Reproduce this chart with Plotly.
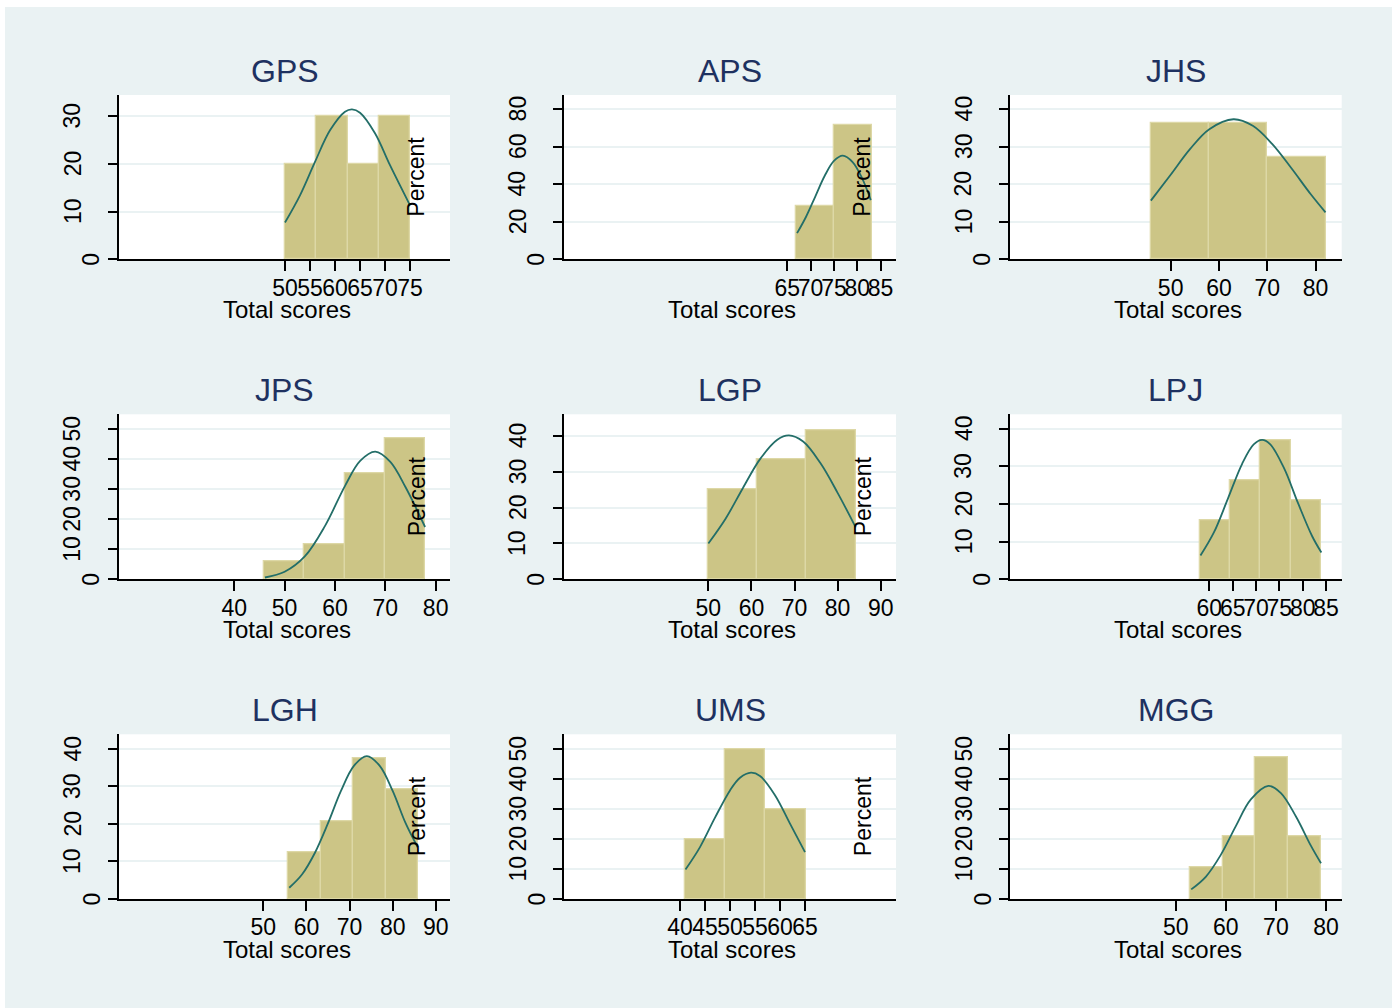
import numpy as np
import plotly.graph_objects as go

W, H = 1392, 1008

# ---------------- data ----------------
panel_names = ["GPS", "APS", "JHS", "JPS", "LGP", "LPJ", "LGH", "UMS", "MGG"]

gps_edges = [50.0, 56.25, 62.5, 68.75, 75.0]
gps_pct = [20.0, 30.0, 20.0, 30.0]
gps_curve_x = [50, 53, 56, 59, 62, 63.4, 65, 68, 71, 75]
gps_curve_y = [7.7, 13.4, 20.4, 27.0, 30.9, 31.4, 30.7, 26.4, 19.7, 11.3]

aps_edges = [66.9, 75.05, 83.2]
aps_pct = [28.57, 71.43]
aps_curve_x = [67.1, 69, 71, 73, 75, 76.9, 79, 81, 82.9]
aps_curve_y = [13.9, 22.5, 33.4, 44.3, 52.3, 55.1, 51.7, 43.3, 31.5]

jhs_edges = [45.9, 57.95, 70.0, 82.05]
jhs_pct = [36.36, 36.36, 27.27]
jhs_curve_x = [45.9, 50, 54, 58, 63, 67, 71, 75, 79, 82.05]
jhs_curve_y = [15.6, 22.5, 29.3, 34.6, 37.25, 35.5, 30.7, 24.2, 17.3, 12.5]

jps_edges = [45.9, 53.9, 61.9, 69.9, 77.9]
jps_pct = [5.88, 11.76, 35.29, 47.06]
jps_curve_x = [46.1, 50, 54, 58, 62, 65, 68, 71, 74, 77.9]
jps_curve_y = [0.6, 2.5, 7.6, 17.7, 31.1, 39.4, 42.5, 39.1, 30.7, 17.4]

lgp_edges = [49.85, 61.2, 72.65, 84.2]
lgp_pct = [25.0, 33.33, 41.67]
lgp_curve_x = [50, 54, 58, 62, 66, 68.7, 72, 76, 80, 84.2]
lgp_curve_y = [10.0, 16.9, 25.4, 33.5, 38.9, 40.1, 38.4, 32.4, 24.1, 14.5]

lpj_edges = [58.0, 64.4, 70.9, 77.45, 84.0]
lpj_pct = [15.79, 26.32, 36.84, 21.05]
lpj_curve_x = [58.1, 61, 64, 67, 69.5, 71.3, 73, 76, 79, 82, 84]
lpj_curve_y = [6.3, 12.5, 21.5, 30.6, 35.8, 37.0, 35.9, 29.5, 20.2, 11.5, 7.1]

lgh_edges = [55.8, 63.3, 70.8, 78.4, 85.8]
lgh_pct = [12.5, 20.83, 37.5, 29.17]
lgh_curve_x = [56, 59, 62, 65, 68, 71, 74, 77, 80, 83, 85.8]
lgh_curve_y = [3.0, 6.6, 12.4, 20.2, 28.8, 35.5, 38.1, 35.5, 28.8, 20.2, 13.8]

ums_edges = [40.9, 48.95, 57.05, 65.1]
ums_pct = [20.0, 50.0, 30.0]
ums_curve_x = [41.1, 44, 47, 50, 52, 54.2, 56, 59, 62, 65]
ums_curve_y = [9.8, 17.3, 27.1, 36.2, 40.4, 42.1, 41.0, 34.6, 25.1, 15.6]

mgg_edges = [52.86, 59.38, 65.9, 72.49, 79.0]
mgg_pct = [10.53, 21.05, 47.37, 21.05]
mgg_curve_x = [53.1, 56, 59, 62, 65, 68.5, 71, 74, 77, 79]
mgg_curve_y = [3.2, 7.4, 14.7, 24.3, 33.2, 37.7, 35.3, 27.5, 17.7, 11.9]

x_ticks = [
    [50, 55, 60, 65, 70, 75],
    [65, 70, 75, 80, 85],
    [50, 60, 70, 80],
    [40, 50, 60, 70, 80],
    [50, 60, 70, 80, 90],
    [60, 65, 70, 75, 80, 85],
    [50, 60, 70, 80, 90],
    [40, 45, 50, 55, 60, 65],
    [50, 60, 70, 80],
]
y_ticks = [
    [0, 10, 20, 30],
    [0, 20, 40, 60, 80],
    [0, 10, 20, 30, 40],
    [0, 10, 20, 30, 40, 50],
    [0, 10, 20, 30, 40],
    [0, 10, 20, 30, 40],
    [0, 10, 20, 30, 40],
    [0, 10, 20, 30, 40, 50],
    [0, 10, 20, 30, 40, 50],
]
x_ranges = [
    [16.8, 83.0], [17.15, 88.3], [16.75, 85.4],
    [17.1, 82.85], [16.5, 93.55], [17.3, 88.35],
    [16.5, 93.3], [16.8, 83.2], [16.93, 83.13],
]
y_ranges = [
    [0, 34.4], [0, 87.4], [0, 43.7],
    [0, 54.9], [0, 46.0], [0, 43.8],
    [0, 43.9], [0, 54.9], [0, 54.9],
]
show_percent = [True, True, False, True, True, False, True, True, False]

edges_all = [gps_edges, aps_edges, jhs_edges, jps_edges, lgp_edges,
             lpj_edges, lgh_edges, ums_edges, mgg_edges]
pct_all = [gps_pct, aps_pct, jhs_pct, jps_pct, lgp_pct,
           lpj_pct, lgh_pct, ums_pct, mgg_pct]
cx_all = [gps_curve_x, aps_curve_x, jhs_curve_x, jps_curve_x, lgp_curve_x,
          lpj_curve_x, lgh_curve_x, ums_curve_x, mgg_curve_x]
cy_all = [gps_curve_y, aps_curve_y, jhs_curve_y, jps_curve_y, lgp_curve_y,
          lpj_curve_y, lgh_curve_y, ums_curve_y, mgg_curve_y]

# ---------------- layout geometry (pixels) ----------------
col_px = [(119, 450), (564, 896), (1010, 1341.7)]
row_px = [(95, 259.3), (414.3, 579.3), (734.3, 899)]

BG = "#EAF2F3"
BAR = "#CCC586"
BAR_EDGE = "#DDD8A6"
LINE = "#236E68"
TITLE = "#1E3160"
FONT = "Liberation Sans, Arial, Helvetica, sans-serif"

fig = go.Figure()
layout = dict(
    width=W, height=H,
    margin=dict(l=0, r=0, t=0, b=0),
    paper_bgcolor=BG,
    plot_bgcolor="white",
    showlegend=False,
    font=dict(family=FONT, size=23, color="black"),
    bargap=0,
)
annotations = []
shapes = [
    dict(type="rect", xref="paper", yref="paper", x0=0, x1=5 / W, y0=0, y1=1,
         fillcolor="white", line=dict(width=0), layer="above"),
    dict(type="rect", xref="paper", yref="paper", x0=0, x1=1, y0=1 - 7 / H, y1=1,
         fillcolor="white", line=dict(width=0), layer="above"),
]

for i, name in enumerate(panel_names):
    r, c = divmod(i, 3)
    ax = "" if i == 0 else str(i + 1)
    xa, ya = "x" + ax, "y" + ax
    edges = np.array(edges_all[i], dtype=float)
    centers = (edges[:-1] + edges[1:]) / 2
    widths = np.diff(edges)
    fig.add_trace(go.Bar(
        x=centers, y=pct_all[i], width=widths,
        marker=dict(color=BAR, line=dict(color=BAR_EDGE, width=1.3)),
        xaxis=xa, yaxis=ya, hoverinfo="skip"))
    fig.add_trace(go.Scatter(
        x=cx_all[i], y=cy_all[i], mode="lines",
        line=dict(color=LINE, width=1.8, shape="spline", smoothing=1.0),
        xaxis=xa, yaxis=ya, hoverinfo="skip"))

    x0p, x1p = col_px[c]
    y0p, y1p = row_px[r]
    layout["xaxis" + ax] = dict(
        domain=[x0p / W, x1p / W], anchor=ya, range=x_ranges[i],
        tickmode="array", tickvals=x_ticks[i], tickangle=0,
        ticks="outside", ticklen=10, tickwidth=1.5, tickcolor="black",
        showline=True, linecolor="black", linewidth=1.6,
        showgrid=False, zeroline=False, fixedrange=True,
        ticklabelstandoff=-3,
        tickfont=dict(size=23, family=FONT, color="black"),
    )
    layout["yaxis" + ax] = dict(
        domain=[1 - y1p / H, 1 - y0p / H], anchor=xa, range=y_ranges[i],
        tickmode="array", tickvals=y_ticks[i], showticklabels=False,
        ticks="outside", ticklen=9, tickwidth=1.5, tickcolor="black",
        showline=True, linecolor="black", linewidth=1.6,
        showgrid=True, gridcolor=BG, gridwidth=2, zeroline=False,
        fixedrange=True,
    )
    # rotated y tick labels (Stata-style placement)
    for v in y_ticks[i]:
        lab = str(v)
        annotations.append(dict(
            text=lab, xref=xa + " domain", yref=ya, x=0, y=v,
            xshift=-27.5 - 19 * (len(lab) - 1),
            xanchor="center", yanchor="middle", textangle=-90,
            showarrow=False, font=dict(size=23, color="black", family=FONT)))

    xc = (x0p + x1p) / 2
    annotations.append(dict(
        text=name, xref="paper", yref="paper", x=xc / W, y=1 - (y0p - 24) / H,
        xanchor="center", yanchor="middle", showarrow=False,
        font=dict(size=32, color=TITLE, family=FONT)))
    annotations.append(dict(
        text="Total scores", xref="paper", yref="paper", x=(xc + 2) / W,
        y=1 - (y1p + 50) / H, xanchor="center", yanchor="middle", showarrow=False,
        font=dict(size=24, color="black", family=FONT)))
    if show_percent[i]:
        annotations.append(dict(
            text="Percent", xref="paper", yref="paper", x=(x1p - 33.5) / W,
            y=1 - ((y0p + y1p) / 2) / H, xanchor="center", yanchor="middle",
            textangle=-90, showarrow=False,
            font=dict(size=23, color="black", family=FONT)))

layout["annotations"] = annotations
layout["shapes"] = shapes
fig.update_layout(**layout)
fig.write_html("out.html")
